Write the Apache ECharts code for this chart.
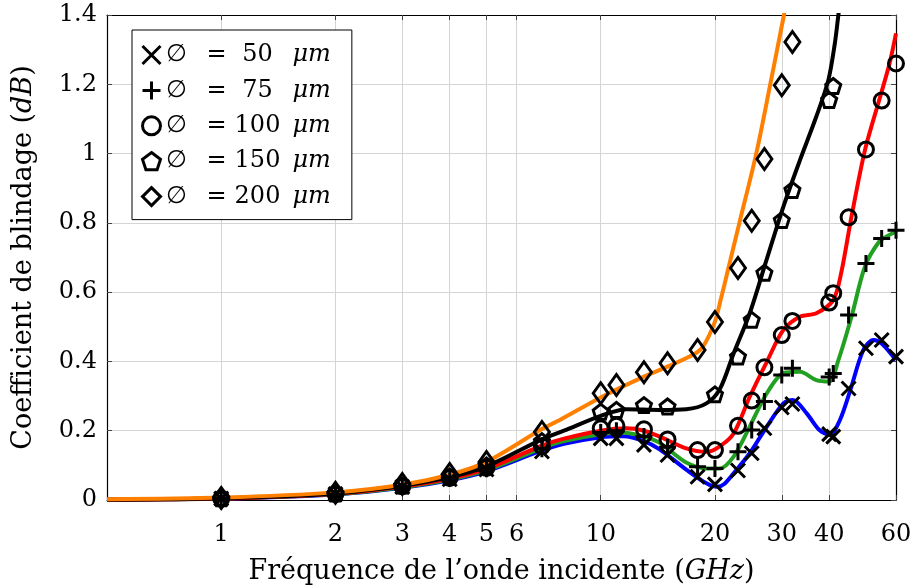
<!DOCTYPE html>
<html><head><meta charset="utf-8">
<script src="https://cdn.jsdelivr.net/npm/echarts@6/dist/echarts.min.js"></script>
<style>html,body{margin:0;padding:0;background:#fff}#c{width:913px;height:586px}</style>
</head><body><div id="c"></div>
<script>
// tick labels
const xTickLabels = [1, 2, 3, 4, 5, 6, 10, 20, 30, 40, 60];
const xMin = 0.5, xMax = 60;
const yMin = 0, yMax = 1.4, yStep = 0.2;

// legend
const seriesNames = ['50', '75', '100', '150', '200'];

// smooth fit curves (frequency GHz, value dB)
const line50F  = [0.5, 1, 2, 3, 4, 5, 7, 8, 10, 11.5, 13, 14.3, 16.8, 19, 20.3, 21.2, 22.4, 24.7, 27.4, 30.3, 32.1, 34.9, 37.7, 40.2, 42.7, 45.5, 49.2, 52.3, 55, 60];
const line50V  = [0.001, 0.004, 0.016, 0.035, 0.057, 0.083, 0.143, 0.162, 0.181, 0.184, 0.17, 0.146, 0.088, 0.048, 0.038, 0.047, 0.077, 0.135, 0.212, 0.279, 0.289, 0.25, 0.202, 0.188, 0.231, 0.318, 0.433, 0.462, 0.452, 0.404];
const line75F  = [0.5, 1, 2, 3, 4, 5, 7, 8, 10, 11.5, 13, 14.3, 16.8, 19, 20.6, 22.4, 24.7, 27.4, 30.3, 33.5, 37, 40, 42.3, 45.8, 49.7, 54.2, 57, 60];
const line75V  = [0.001, 0.004, 0.017, 0.037, 0.059, 0.086, 0.15, 0.17, 0.19, 0.194, 0.183, 0.165, 0.108, 0.091, 0.091, 0.125, 0.212, 0.308, 0.366, 0.37, 0.346, 0.342, 0.404, 0.529, 0.674, 0.746, 0.762, 0.775];
const line100F = [0.5, 1, 2, 3, 4, 5, 7, 8, 10, 11.7, 13, 14.3, 16.8, 19, 20.6, 22.4, 24.7, 27.4, 30.3, 33.5, 37, 41, 43, 45.8, 49.7, 54.5, 57.7, 60];
const line100V = [0.001, 0.004, 0.018, 0.039, 0.062, 0.09, 0.157, 0.177, 0.2, 0.207, 0.2, 0.183, 0.149, 0.139, 0.155, 0.192, 0.298, 0.399, 0.491, 0.529, 0.539, 0.577, 0.654, 0.818, 1.01, 1.164, 1.26, 1.347];
const line150F = [0.5, 1, 2, 3, 4, 5, 7, 8, 10, 11.7, 14.3, 16.8, 19, 20.6, 22.4, 24.7, 27.3, 30.3, 33.5, 37, 39.8, 41.4, 42.3, 43.5];
const line150V = [0.001, 0.005, 0.019, 0.041, 0.066, 0.097, 0.175, 0.2, 0.243, 0.262, 0.26, 0.262, 0.279, 0.32, 0.423, 0.539, 0.69, 0.847, 0.981, 1.107, 1.212, 1.318, 1.4, 1.5];
const line200F = [0.5, 1, 2, 3, 4, 5, 7, 7.8, 10, 13, 15, 17.5, 18.6, 20, 20.7, 21.7, 23.2, 25.7, 27.9, 30.4, 31.2];
const line200V = [0.002, 0.007, 0.022, 0.044, 0.073, 0.11, 0.205, 0.231, 0.296, 0.356, 0.385, 0.419, 0.443, 0.515, 0.577, 0.669, 0.8, 1.0, 1.193, 1.4, 1.46];

// simulated points (markers)
const pts50F  = [1, 2, 3, 4, 5, 7, 10, 11, 13, 15, 18, 20, 23, 25, 27, 30, 32, 40, 41, 45, 50, 55, 60];
const pts50V  = [0.004, 0.017, 0.038, 0.06, 0.088, 0.14, 0.178, 0.178, 0.159, 0.13, 0.067, 0.045, 0.085, 0.135, 0.207, 0.267, 0.277, 0.19, 0.183, 0.322, 0.438, 0.462, 0.414];
const pts75F  = [1, 2, 3, 4, 5, 7, 10, 11, 13, 15, 18, 20, 23, 25, 27, 30, 32, 40, 41, 45, 50, 55, 60];
const pts75V  = [0.004, 0.017, 0.039, 0.062, 0.09, 0.148, 0.195, 0.2, 0.183, 0.152, 0.096, 0.091, 0.139, 0.202, 0.284, 0.361, 0.38, 0.355, 0.365, 0.534, 0.683, 0.755, 0.779];
const pts100F = [1, 2, 3, 4, 5, 7, 10, 11, 13, 15, 18, 20, 23, 25, 27, 30, 32, 40, 41, 45, 50, 55, 60];
const pts100V = [0.004, 0.018, 0.04, 0.064, 0.093, 0.155, 0.207, 0.214, 0.204, 0.175, 0.144, 0.144, 0.214, 0.287, 0.383, 0.476, 0.517, 0.57, 0.597, 0.816, 1.012, 1.153, 1.26];
const pts150F = [1, 2, 3, 4, 5, 7, 10, 11, 13, 15, 20, 23, 25, 27, 30, 32, 40, 41];
const pts150V = [0.005, 0.019, 0.042, 0.068, 0.1, 0.17, 0.255, 0.26, 0.274, 0.27, 0.305, 0.414, 0.52, 0.656, 0.808, 0.895, 1.155, 1.195];
const pts200F = [1, 2, 3, 4, 5, 7, 10, 11, 13, 15, 18, 20, 23, 25, 27, 30, 32];
const pts200V = [0.006, 0.021, 0.046, 0.075, 0.11, 0.196, 0.308, 0.332, 0.369, 0.395, 0.433, 0.514, 0.67, 0.806, 0.984, 1.197, 1.322];

const FONT = 'DejaVu Serif';
const lg = Math.log10;
const pair = (F, V) => F.map((f, i) => [lg(f), V[i]]);

const lineColors = ['#0000ff', '#22a022', '#ff0000', '#000000', '#ff8000'];
const lineF = [line50F, line75F, line100F, line150F, line200F];
const lineV = [line50V, line75V, line100V, line150V, line200V];
const ptsF = [pts50F, pts75F, pts100F, pts150F, pts200F];
const ptsV = [pts50V, pts75V, pts100V, pts150V, pts200V];
const symbols = [
  'path://M0,0L10,10M10,0L0,10',
  'path://M5,0L5,10M0,5L10,5',
  'circle',
  'path://M5,0L10,3.8L8.1,9.6L1.9,9.6L0,3.8Z',
  'diamond'
];
const symSizes = [14, 17, 15, 15, [15, 21]];

const markStyle = { color: 'rgba(0,0,0,0)', borderColor: '#000', borderWidth: 3, opacity: 1 };

const series = [];
for (let i = 0; i < 5; i++) {
  series.push({
    type: 'line', name: 'fit' + seriesNames[i], data: pair(lineF[i], lineV[i]),
    smooth: 0.3, showSymbol: false, symbol: 'none', z: 2, clip: true, silent: true,
    lineStyle: { color: lineColors[i], width: 4, opacity: 1 }, itemStyle: { color: lineColors[i] }
  });
}
for (let i = 0; i < 5; i++) {
  series.push({
    type: 'scatter', name: seriesNames[i], data: pair(ptsF[i], ptsV[i]),
    symbol: symbols[i], symbolSize: symSizes[i], z: 5, silent: true,
    itemStyle: markStyle, emphasis: { disabled: true }
  });
}

const xTickVals = xTickLabels.map(lg);
const yLabel = v => (Math.abs(v) < 1e-9 ? '0' : String(+v.toFixed(1)));
const rt = (extra) => Object.assign({ fontFamily: FONT, fontSize: 24, color: '#000', lineHeight: 26 }, extra || {});

const option = {
  animation: false,
  backgroundColor: '#fff',
  textStyle: { fontFamily: FONT },
  grid: { left: 107, right: 17, top: 15, bottom: 86, show: false, containLabel: false, outerBoundsMode: 'none' },
  legend: {
    show: true, orient: 'vertical', left: 132, top: 30,
    padding: [12, 21, 10, 9], itemGap: 9.4, itemWidth: 18, itemHeight: 18,
    backgroundColor: '#fff', borderColor: '#000', borderWidth: 1, borderRadius: 0,
    selectedMode: false,
    data: seriesNames.map((n, i) => ({ name: n, icon: symbols[i], itemStyle: markStyle })),
    formatter: name => `{s|∅}{e|=}{n|${name}}{u|μm}`,
    textStyle: rt({
      rich: {
        s: rt({ width: 36, align: 'left' }),
        e: rt({ width: 30, align: 'center' }),
        n: rt({ width: 52, align: 'center' }),
        u: rt({ fontStyle: 'italic', padding: [0, 0, 0, 9] })
      }
    })
  },
  xAxis: [{
    type: 'value', position: 'bottom', min: lg(xMin), max: lg(xMax),
    name: '{r|Fréquence de l’onde incidente (}{i|GHz}{r|)}',
    nameLocation: 'middle', nameGap: 58, nameMoveOverlap: false,
    nameTextStyle: { rich: {
      r: { fontFamily: FONT, fontSize: 27, color: '#000' },
      i: { fontFamily: FONT, fontSize: 27, color: '#000', fontStyle: 'italic' } } },
    axisLine: { show: true, onZero: false, lineStyle: { color: '#000', width: 1.2 } },
    axisTick: { show: true, inside: true, length: 5, customValues: xTickVals, lineStyle: { color: '#444', width: 1 } },
    axisLabel: { show: true, customValues: xTickVals, margin: 23, fontFamily: FONT, fontSize: 24, color: '#000',
      hideOverlap: false, formatter: v => String(Math.round(Math.pow(10, v))) },
    splitLine: { show: true, lineStyle: { color: '#d4d4d4', width: 1 } },
    minorTick: { show: false }, minorSplitLine: { show: false }
  }, {
    type: 'value', position: 'top', min: lg(xMin), max: lg(xMax),
    axisLine: { show: true, onZero: false, lineStyle: { color: '#000', width: 1.2 } },
    axisTick: { show: true, inside: true, length: 5, customValues: xTickVals, lineStyle: { color: '#444', width: 1 } },
    axisLabel: { show: false }, splitLine: { show: false }
  }],
  yAxis: [{
    type: 'value', position: 'left', min: yMin, max: yMax, interval: yStep,
    name: '{r|Coefficient de blindage (}{i|dB}{r|)}',
    nameLocation: 'middle', nameGap: 70, nameMoveOverlap: false,
    nameTextStyle: { rich: {
      r: { fontFamily: FONT, fontSize: 27, color: '#000' },
      i: { fontFamily: FONT, fontSize: 27, color: '#000', fontStyle: 'italic' } } },
    axisLine: { show: true, onZero: false, lineStyle: { color: '#000', width: 1.2 } },
    axisTick: { show: true, inside: true, length: 5, lineStyle: { color: '#444', width: 1 } },
    axisLabel: { show: true, margin: 10, fontFamily: FONT, fontSize: 24, color: '#000', formatter: yLabel },
    splitLine: { show: true, lineStyle: { color: '#d4d4d4', width: 1 } }
  }, {
    type: 'value', position: 'right', min: yMin, max: yMax, interval: yStep,
    axisLine: { show: true, onZero: false, lineStyle: { color: '#000', width: 1.2 } },
    axisTick: { show: true, inside: true, length: 5, lineStyle: { color: '#444', width: 1 } },
    axisLabel: { show: false }, splitLine: { show: false }
  }],
  series: series
};

const chart = echarts.init(document.getElementById('c'), null, { renderer: 'canvas' });
chart.setOption(option);
</script>
</body></html>
